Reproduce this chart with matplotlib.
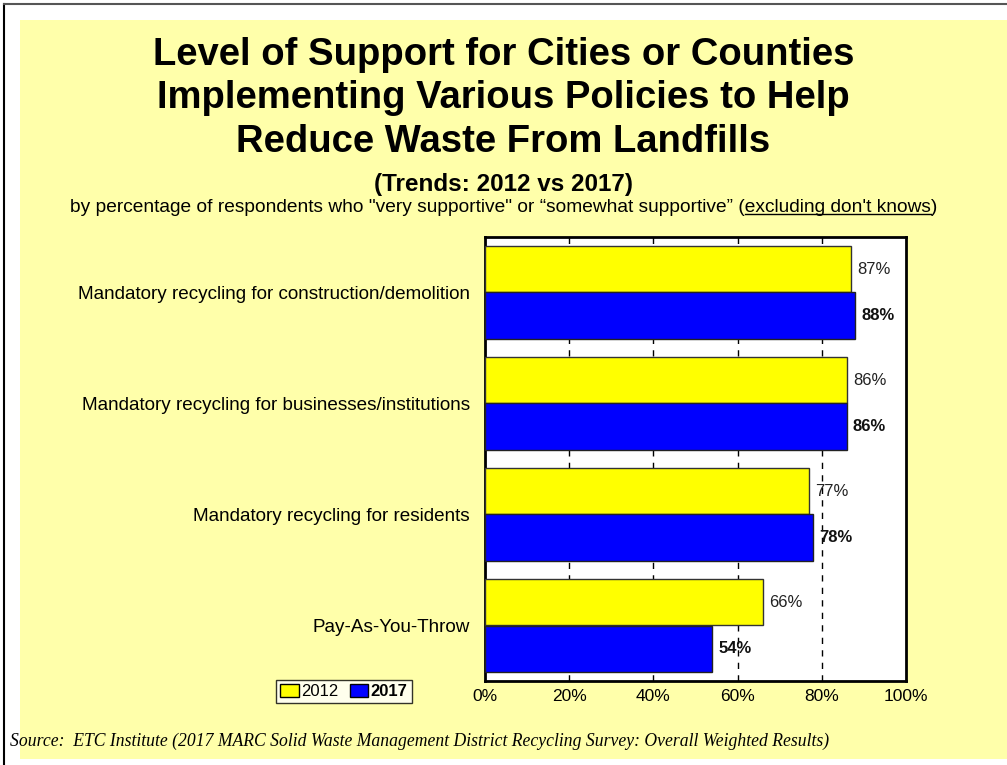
import matplotlib
matplotlib.use("Agg")
import matplotlib.pyplot as plt
from matplotlib.patches import Rectangle, Patch
from matplotlib.lines import Line2D
import numpy as np

categories = [
    "Mandatory recycling for construction/demolition",
    "Mandatory recycling for businesses/institutions",
    "Mandatory recycling for residents",
    "Pay-As-You-Throw",
]
values_2012 = [87, 86, 77, 66]
values_2017 = [88, 86, 78, 54]
series_names = ["2012", "2017"]
xticks = [0, 20, 40, 60, 80, 100]
xtick_labels = ["0%", "20%", "40%", "60%", "80%", "100%"]

plt.rcParams['font.family'] = ['Liberation Sans', 'DejaVu Sans']

W, H = 1007, 765
fig = plt.figure(figsize=(W / 100, H / 100), dpi=100)
fig.patch.set_facecolor("white")

# yellow panel
panel = Rectangle((20 / W, 1 - 759 / H), (W - 20) / W, (759 - 20) / H,
                  transform=fig.transFigure, facecolor="#FFFFAA", edgecolor="none", zorder=-10)
fig.patches.append(panel)
# outer border lines (left and top)
fig.add_artist(Line2D([3.5 / W, 3.5 / W], [0, 1 - 4 / H], transform=fig.transFigure, color="black", lw=1.5))
fig.add_artist(Line2D([3.5 / W, 1], [1 - 4 / H, 1 - 4 / H], transform=fig.transFigure, color="#555555", lw=1.5))

ax = fig.add_axes([485 / W, 1 - 681 / H, (906 - 485) / W, (681 - 237) / H])
ax.set_zorder(5)
ax.set_facecolor("white")

y = np.arange(len(categories))
h = 0.423
ax.barh(y - h / 2, values_2012, height=h, color="#FFFF00", edgecolor="#333333", linewidth=1, zorder=3)
ax.barh(y + h / 2, values_2017, height=h, color="#0000FF", edgecolor="#222222", linewidth=1, zorder=3)

for i in range(len(categories)):
    ax.text(values_2012[i] + 1.4, y[i] - h / 2, f"{values_2012[i]}%", va="center", ha="left",
            fontsize=12, color="#222222", zorder=5)
    ax.text(values_2017[i] + 1.4, y[i] + h / 2, f"{values_2017[i]}%", va="center", ha="left",
            fontsize=12, fontweight="bold", color="#111111", zorder=5)

ax.set_xlim(0, 100)
ax.set_ylim(3.5, -0.5)
ax.set_xticks(xticks)
ax.set_xticklabels(xtick_labels, fontsize=12.5)
ax.set_yticks(y)
ax.set_yticklabels(categories, fontsize=13.6)
ax.tick_params(axis="x", length=0, pad=6)
ax.tick_params(axis="y", length=0, pad=11)
for x in xticks[1:-1]:
    ax.axvline(x, color="black", lw=1, linestyle=(0, (4.5, 4.5)), zorder=1)
for s in ax.spines.values():
    s.set_linewidth(2)
    s.set_color("black")

# titles
fig.text(0.5, 1 - 98.5 / H, "Level of Support for Cities or Counties\nImplementing Various Policies to Help\nReduce Waste From Landfills",
         ha="center", va="center", fontsize=27.5, fontweight="bold", linespacing=1.26)
fig.text(0.5, 1 - 184 / H, "(Trends: 2012 vs 2017)", ha="center", va="center", fontsize=17.5, fontweight="bold")

FS_SUB = 13.8
prefix = 'by percentage of respondents who "very supportive" or \u201csomewhat supportive\u201d ('
under = "excluding don't knows"
suffix = ")"
full = prefix + under + suffix
sub_y = 1 - 207 / H
t_full = fig.text(0.5, sub_y, full, ha="center", va="center", fontsize=FS_SUB)
fig.canvas.draw()
r = fig.canvas.get_renderer()
bb_full = t_full.get_window_extent(r)
tp = fig.text(0, 0, prefix, fontsize=FS_SUB, alpha=0)
tu = fig.text(0, 0, prefix + under, fontsize=FS_SUB, alpha=0)
wp = tp.get_window_extent(r).width
wu = tu.get_window_extent(r).width
tp.remove(); tu.remove()
x0 = (bb_full.x0 + wp) / W
x1 = (bb_full.x0 + wu) / W
uy = (bb_full.y0 + 2) / H
fig.add_artist(Line2D([x0, x1], [uy, uy], transform=fig.transFigure, color="black", lw=1))

# legend
handles = [Patch(facecolor="#FFFF00", edgecolor="black", lw=1), Patch(facecolor="#0000FF", edgecolor="black", lw=1)]
leg = fig.legend(handles, series_names, loc="center", bbox_to_anchor=(344 / W, 1 - 691.5 / H),
                 ncol=2, fontsize=12, frameon=True, fancybox=False, edgecolor="black",
                 handlelength=1.1, handleheight=0.8, handletextpad=0.15, columnspacing=0.7,
                 borderpad=0.25, borderaxespad=0)
leg.get_frame().set_linewidth(1)
leg.get_texts()[1].set_fontweight("bold")

fig.text(10 / W, 1 - 741 / H,
         "Source:  ETC Institute (2017 MARC Solid Waste Management District Recycling Survey: Overall Weighted Results)",
         ha="left", va="center", fontsize=12.7, style="italic", family=["Liberation Serif", "DejaVu Serif"])

fig.savefig("out.png", dpi=100, facecolor=fig.get_facecolor())
